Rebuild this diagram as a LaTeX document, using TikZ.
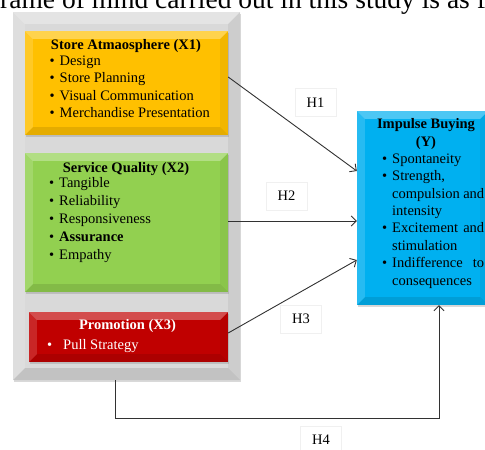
\documentclass[tikz,border=0pt]{standalone}
\usepackage{fontspec}
\setmainfont{Liberation Serif}
\usetikzlibrary{arrows.meta, positioning, shadows}
\definecolor{framegray}{RGB}{217,217,217}
\definecolor{storeorange}{RGB}{255,192,0}
\definecolor{servicegreen}{RGB}{146,208,80}
\definecolor{promored}{RGB}{192,0,0}
\definecolor{impulseblue}{RGB}{0,176,240}
\definecolor{linkgray}{RGB}{50,50,50}
\newcommand\bodyfont{\fontsize{14.5}{17.5}\selectfont}
\newcommand\bul{\makebox[10pt][l]{\textbullet}}
% light and dark edges round a box node
\newcommand\bevelbox[2]{%
  \fill[white, opacity=.3] (#1.north west) -- (#1.north east) -- ([shift={(-#2,#2)}]#1.north east) -- ([shift={(#2,#2)}]#1.north west) -- cycle;
  \fill[white, opacity=.15] (#1.north west) -- ([shift={(#2,#2)}]#1.north west) -- ([shift={(#2,-#2)}]#1.south west) -- (#1.south west) -- cycle;
  \fill[black, opacity=.05] (#1.north east) -- ([shift={(-#2,#2)}]#1.north east) -- ([shift={(-#2,-#2)}]#1.south east) -- (#1.south east) -- cycle;
  \fill[black, opacity=.1] (#1.south west) -- ([shift={(#2,-#2)}]#1.south west) -- ([shift={(-#2,-#2)}]#1.south east) -- (#1.south east) -- cycle;}

\begin{document}
\begin{tikzpicture}[x=1pt, y=-1pt,
  box/.style={rectangle, inner sep=0pt, drop shadow={shadow xshift=1pt, shadow yshift=-2pt, opacity=.3}},
  title/.style={font=\bodyfont\bfseries, anchor=base, inner sep=0pt},
  itm/.style={font=\bodyfont, anchor=base west, inner sep=0pt, execute at begin node=\bul},
  cont/.style={font=\bodyfont, anchor=base west, inner sep=0pt},
  hyp/.style={draw=gray!12, fill=white, font=\bodyfont, minimum width=41pt, minimum height=28pt, inner sep=0pt},
  link/.style={draw=linkgray, line width=0.9pt, -{Straight Barb[length=5pt, width=10pt]}}]

\useasboundingbox (0,0) rectangle (485,450);

% heading line, cut by the top edge
\node[font=\fontsize{27.5}{32}\selectfont, anchor=base west, inner sep=0pt] (head) at (-9.2,8) {frame of mind carried out in this study is as follows};

% gray frame and the three variables
\node[box, fill=framegray, minimum width=227pt, minimum height=368pt] (frame) at (126.5,196) {};
\bevelbox{frame}{12}
\node[box, fill=storeorange, minimum width=203pt, minimum height=104pt] (x1) at (126.5,83) {};
\bevelbox{x1}{8}
\node[box, fill=servicegreen, minimum width=203pt, minimum height=139pt] (x2) at (126.5,222.5) {};
\bevelbox{x2}{8}
\node[box, fill=promored, minimum width=199pt, minimum height=50pt] (x3) at (128.5,337) {};
\bevelbox{x3}{8}
\node[box, fill=impulseblue, minimum width=131pt, minimum height=194pt] (yb) at (422.5,208) {};
\bevelbox{yb}{8}

% texts of X1
\node[title] (x1t) at (126,49.5) {Store Atmaosphere (X1)};
\foreach \t [count=\i] in {Design, Store Planning, Visual Communication, Merchandise Presentation}
  \node[itm] (x1i\i) at (49.5,47.7+17.5*\i) {\t};

% texts of X2
\node[title] (x2t) at (126,172.5) {Service Quality (X2)};
\foreach \t [count=\i] in {Tangible, Reliability, Responsiveness, {\bfseries Assurance}, Empathy}
  \node[itm] (x2i\i) at (49,170+17.8*\i) {\t};

% texts of X3
\node[title, text=white] (x3t) at (127.5,329.5) {Promotion (X3)};
\node[cont, text=white] (x3i1) at (47,349.5) {\makebox[16pt][l]{\textbullet}Pull Strategy};

% texts of Y
\node[title] (yt1) at (426,128.5) {Impulse Buying};
\node[title] (yt2) at (426,146) {(Y)};
\node[itm] (y1) at (382,163.3) {Spontaneity};
\node[itm] (y2) at (382,180.7) {Strength,};
\node[cont] (y3) at (392,198.1) {\makebox[92pt][s]{compulsion and}};
\node[cont] (y4) at (392,215.5) {intensity};
\node[itm] (y5) at (382,232.9) {\makebox[92pt][s]{Excitement and}};
\node[cont] (y6) at (392,250.3) {stimulation};
\node[itm] (y7) at (382,267.7) {\makebox[92pt][s]{Indifference to}};
\node[cont] (y8) at (392,285.1) {consequences};

% hypotheses
\draw[link] ([yshift=6pt]x1.east) -- ([yshift=37pt]yb.west);
\draw[link] ([yshift=1.5pt]x2.east) -- ([yshift=1.5pt]x2.east -| yb.west);
\draw[link] ([yshift=4pt]x3.east) -- ([yshift=-52pt]yb.west);
\coordinate (bend) at (115,418);
\draw[link] (frame.south -| bend) -- (bend) -| ([xshift=16.5pt]yb.south);

\node[hyp] (h1) at (315.5,102.5) {H1};
\node[hyp] (h2) at (286.5,196) {H2};
\node[hyp] (h3) at (301,319) {H3};
\node[hyp] (h4) at (321,440) {H4};
\end{tikzpicture}
\end{document}
